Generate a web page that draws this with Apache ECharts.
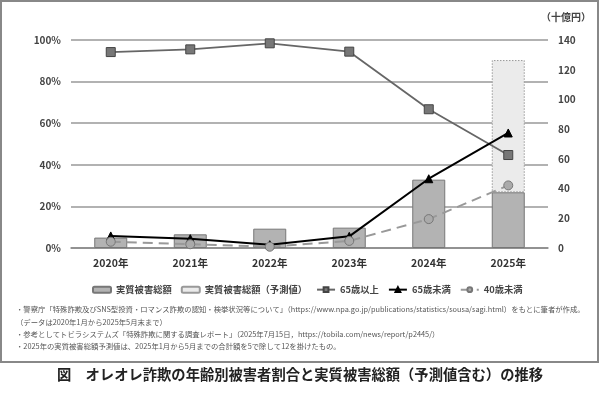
<!DOCTYPE html>
<html><head><meta charset="utf-8">
<script src="https://cdn.jsdelivr.net/npm/echarts@6/dist/echarts.min.js"></script>
<style>html,body{margin:0;padding:0;background:#fff}#c{width:600px;height:393px}</style>
</head><body><div id="c"></div>
<script>
const categories = ['2020年','2021年','2022年','2023年','2024年','2025年'];
const damageActual = [7, 9.2, 13, 13.7, 46, 37.5];          // 十億円
const damageForecast = ['-', '-', '-', '-', '-', 89];       // stacked on actual
const over65 = [94.2, 95.5, 98.4, 94.4, 66.7, 44.7];        // %
const under65 = [5.8, 4.5, 1.6, 5.6, 33.3, 55.3];           // %
const under40 = [3.0, 1.8, 0.6, 3.4, 13.9, 30.1];           // %
const leftTicks = {min: 0, max: 100, interval: 20};
const rightTicks = {min: 0, max: 140, interval: 20};
const unitLabel = '（十億円）';
const notes = [
  '・警察庁「特殊詐欺及びSNS型投資・ロマンス詐欺の認知・検挙状況等について」（https://www.npa.go.jp/publications/statistics/sousa/sagi.html）をもとに筆者が作成。',
  '（データは2020年1月から2025年5月末まで）',
  '・参考としてトビラシステムズ「特殊詐欺に関する調査レポート」（2025年7月15日，https://tobila.com/news/report/p2445/）',
  '・2025年の実質被害総額予測値は、2025年1月から5月までの合計額を5で除して12を掛けたもの。'
];
const title = '図　オレオレ詐欺の年齢別被害者割合と実質被害総額（予測値含む）の推移';

const FONT = '"Noto Sans CJK JP", "Noto Sans", sans-serif';
const chart = echarts.init(document.getElementById('c'), null, {renderer: 'canvas'});
const noteY = [311, 324, 336, 348];
chart.setOption({
  animation: false,
  textStyle: {fontFamily: FONT},
  grid: {left: 71, right: 52, top: 40, bottom: 145},
  legend: {
    top: 280, left: 87, itemWidth: 18, itemHeight: 6, itemGap: 9,
    textStyle: {fontSize: 9.3, color: '#444', fontWeight: 'bold', fontFamily: FONT},
    data: ['実質被害総額','実質被害総額（予測値）','65歳以上','65歳未満','40歳未満']
  },
  xAxis: {
    type: 'category', data: categories,
    axisLine: {show: true, lineStyle: {color: '#888', width: 1.5}},
    axisTick: {show: false},
    axisLabel: {fontSize: 10.5, fontWeight: 'bold', color: '#333', margin: 10}
  },
  yAxis: [
    {type: 'value', min: leftTicks.min, max: leftTicks.max, interval: leftTicks.interval,
     axisLine: {show: false}, axisTick: {show: false},
     axisLabel: {formatter: '{value}%', fontSize: 10, fontWeight: 'bold', color: '#444', margin: 10},
     splitLine: {lineStyle: {color: '#999', width: 1.5}}},
    {type: 'value', min: rightTicks.min, max: rightTicks.max, interval: rightTicks.interval,
     axisLine: {show: false}, axisTick: {show: false},
     axisLabel: {fontSize: 10, fontWeight: 'bold', color: '#444', margin: 10},
     splitLine: {show: false}}
  ],
  series: [
    {name: '実質被害総額', type: 'bar', yAxisIndex: 1, stack: 'total', barWidth: 33,
     data: damageActual,
     itemStyle: {color: '#b3b3b3', borderColor: '#777', borderWidth: 1}},
    {name: '実質被害総額（予測値）', type: 'bar', yAxisIndex: 1, stack: 'total', barWidth: 33,
     data: damageForecast,
     itemStyle: {color: '#ebebeb', borderColor: '#999', borderWidth: 1, borderType: [1.5, 1.5]}},
    {name: '65歳以上', type: 'line', yAxisIndex: 0, data: over65,
     symbol: 'rect', symbolSize: 9,
     lineStyle: {color: '#666', width: 1.8},
     itemStyle: {color: '#777', borderColor: '#444', borderWidth: 1}},
    {name: '65歳未満', type: 'line', yAxisIndex: 0, data: under65,
     symbol: 'triangle', symbolSize: 8,
     lineStyle: {color: '#000', width: 2},
     itemStyle: {color: '#000', borderColor: '#000', borderWidth: 1}},
    {name: '40歳未満', type: 'line', yAxisIndex: 0, data: under40,
     symbol: 'circle', symbolSize: 9,
     lineStyle: {color: '#999', width: 2, type: [10, 6]},
     itemStyle: {color: '#aaa', borderColor: '#777', borderWidth: 1}}
  ],
  graphic: [
    {type: 'rect', shape: {x: 1, y: 1, width: 597, height: 361}, z: -1,
     style: {fill: 'none', stroke: '#888', lineWidth: 2}},
    {type: 'text', left: 541, top: 12,
     style: {text: unitLabel, fontSize: 10, fill: '#444', fontWeight: 'bold', fontFamily: FONT}},
    ...notes.map((t, i) => ({type: 'text', left: 16, top: noteY[i] - 5,
      style: {text: t, fontSize: 7.35, fill: '#555', fontFamily: FONT}})),
    {type: 'text', left: 'center', top: 367,
     style: {text: title, fontSize: 14.3, fill: '#222', fontWeight: 'bold', fontFamily: FONT}}
  ]
});
</script></body></html>
